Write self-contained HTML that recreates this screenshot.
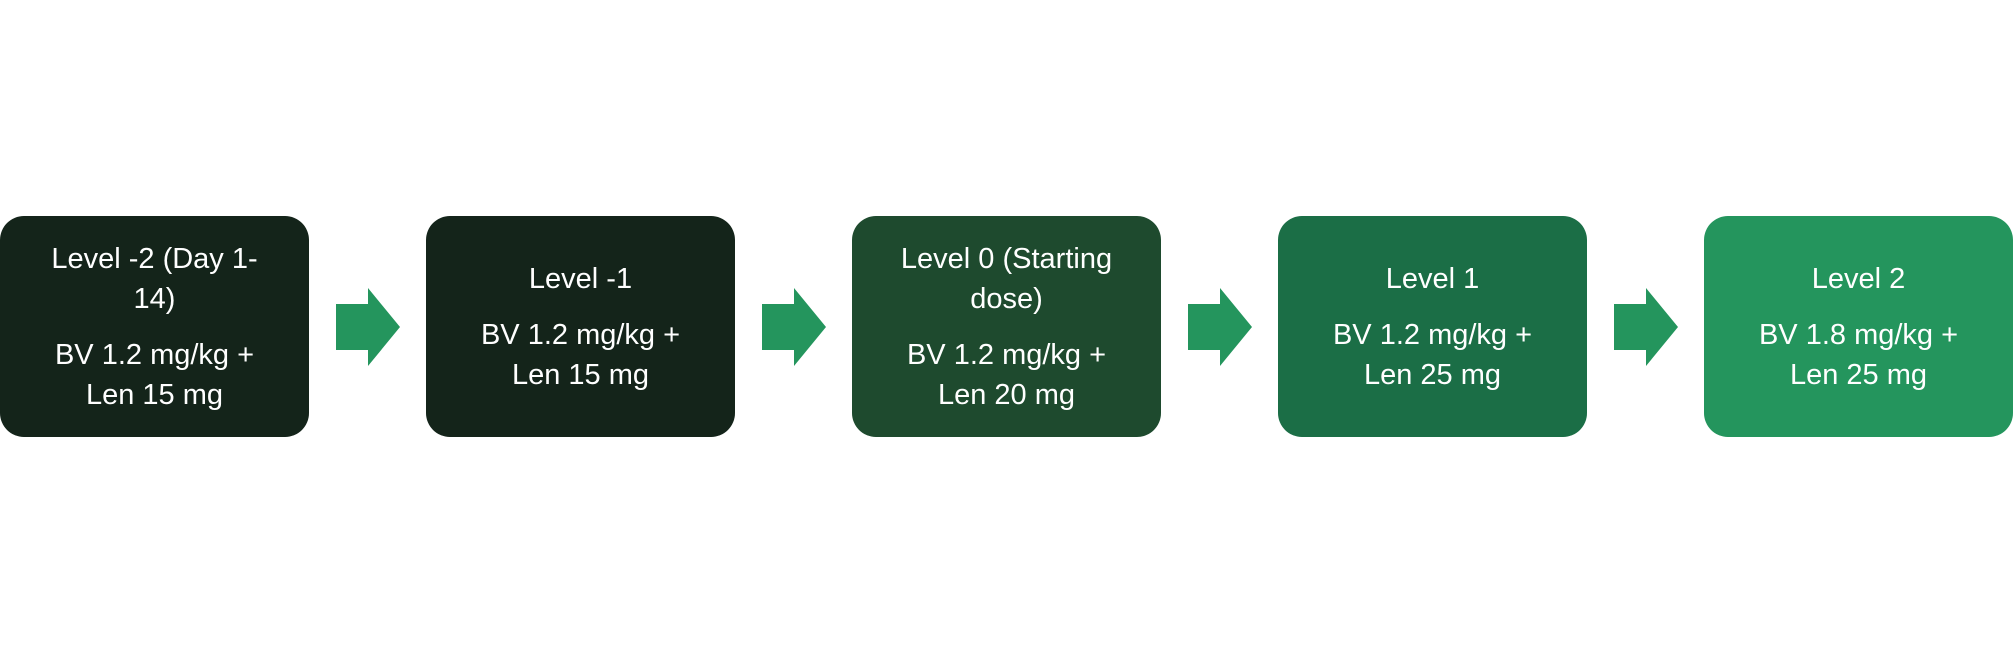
<!DOCTYPE html>
<html><head><style>
html,body{margin:0;padding:0;background:#fff;width:2013px;height:652px;overflow:hidden;position:relative;font-family:"Liberation Sans",sans-serif;}
.b{position:absolute;top:216px;width:309px;height:221px;border-radius:24px;color:#fff;display:flex;flex-direction:column;justify-content:center;align-items:center;text-align:center;font-size:29px;line-height:40px;}
.b p{margin:0;}
.b p+p{margin-top:16px;}
svg{position:absolute;top:288px;}
</style></head><body>
<div class="b" style="left:0;background:#14241a"><p>Level -2 (Day 1-<br>14)</p><p>BV 1.2 mg/kg +<br>Len 15 mg</p></div>
<div class="b" style="left:426px;background:#14241a"><p>Level -1</p><p>BV 1.2 mg/kg +<br>Len 15 mg</p></div>
<div class="b" style="left:852px;background:#1e4a2e"><p>Level 0 (Starting<br>dose)</p><p>BV 1.2 mg/kg +<br>Len 20 mg</p></div>
<div class="b" style="left:1278px;background:#1b6e46"><p>Level 1</p><p>BV 1.2 mg/kg +<br>Len 25 mg</p></div>
<div class="b" style="left:1704px;background:#24955d"><p>Level 2</p><p>BV 1.8 mg/kg +<br>Len 25 mg</p></div>
<svg style="left:336px" width="64" height="78"><polygon points="0,16 32,16 32,0 64,39 32,78 32,62 0,62" fill="#24955d"/></svg>
<svg style="left:762px" width="64" height="78"><polygon points="0,16 32,16 32,0 64,39 32,78 32,62 0,62" fill="#24955d"/></svg>
<svg style="left:1188px" width="64" height="78"><polygon points="0,16 32,16 32,0 64,39 32,78 32,62 0,62" fill="#24955d"/></svg>
<svg style="left:1614px" width="64" height="78"><polygon points="0,16 32,16 32,0 64,39 32,78 32,62 0,62" fill="#24955d"/></svg>
</body></html>
